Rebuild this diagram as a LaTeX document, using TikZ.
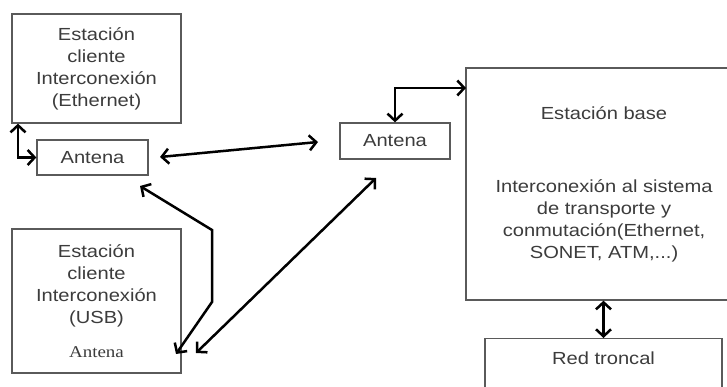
\documentclass[tikz,border=0pt]{standalone}
\usepackage{fontspec}
\setmainfont{Liberation Sans}[FakeStretch=1.15]
\newfontfamily\antserif{Liberation Serif}[FakeStretch=1.15]
\usetikzlibrary{arrows.meta}
\definecolor{boxline}{HTML}{5A5A5A}
\definecolor{txt}{HTML}{3C3C3C}
\tikzset{
  box/.style={draw=boxline, line width=1.3pt, rectangle, align=center,
    text=txt, font=\fontsize{17.5}{22}\selectfont, inner sep=0pt},
  dbl/.style={draw=black, line width=2.5pt,
    {Straight Barb[length=7pt,width=15pt]}-{Straight Barb[length=7pt,width=15pt]}},
}
\begin{document}
\begin{tikzpicture}[x=1pt,y=-1pt]
  \fill[white] (0,0) rectangle (727,387);
  \useasboundingbox (0,0) rectangle (727,387);

  % client station with Ethernet interface
  \node[box, minimum width=169pt, minimum height=109pt] (cli1) at (96.5,68.5)
    {Estación\\cliente\\Interconexión\\(Ethernet)};
  \node[box, minimum width=111pt, minimum height=35pt] (ant1) at (92.5,157.5) {Antena};

  % client station with USB interface
  \node[box, minimum width=169pt, minimum height=144pt] (cli2) at (96.5,301)
    {Estación\\cliente\\Interconexión\\(USB)\\[12pt]{\antserif\fontsize{16.5}{20}\selectfont Antena}};

  % base station side
  \node[box, minimum width=110pt, minimum height=36pt] (ant2) at (395,141) {Antena};
  \node[box, minimum width=276pt, minimum height=232pt] (base) at (604,184)
    {Estación base\\[51pt]Interconexión al sistema\\de transporte y\\conmutación(Ethernet,\\SONET, ATM,...)};
  \node[box, anchor=north, minimum width=237pt, text height=13pt, text depth=40pt,
    inner ysep=13pt] (red) at (603.5,338) {Red troncal};

  % free ends of the radio links
  \coordinate (e1) at (18,157);
  \coordinate (r1) at (160,157);
  \coordinate (r2) at (318,142);
  \coordinate (b1) at (466,88);
  \coordinate (xa1) at (140,186);
  \coordinate (xa2) at (212,230);
  \coordinate (xa3) at (212,302);
  \coordinate (xa4) at (176,354);
  \coordinate (xb1) at (376,178);
  \coordinate (xb2) at (196,353);

  % connectors
  \draw[dbl] (cli1.south -| e1) |- (ant1.west);
  \draw[dbl] (r1) -- (r2);
  \draw[dbl] (ant2.north) |- (b1);
  \draw[dbl] (xa1) -- (xa2) -- (xa3) -- (xa4);
  \draw[dbl] (xb1) -- (xb2);
  \draw[dbl] (base.south -| red.north) -- (red.north);
\end{tikzpicture}
\end{document}
